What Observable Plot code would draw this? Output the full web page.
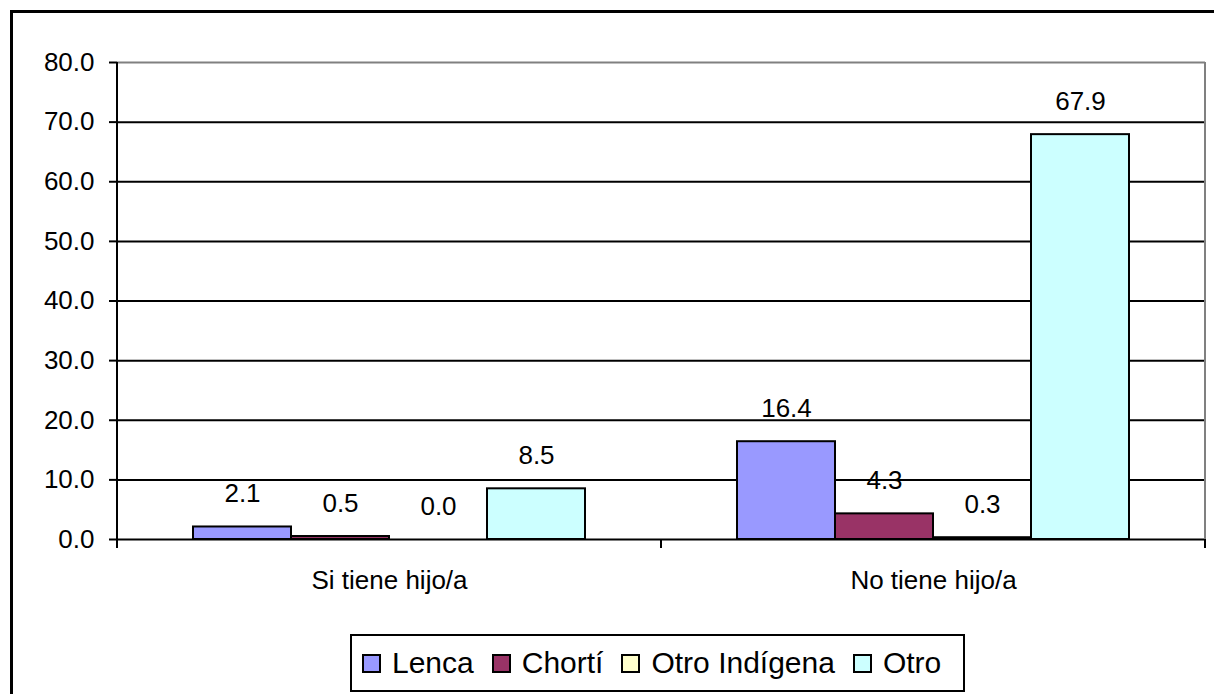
<!DOCTYPE html>
<html>
<head>
<meta charset="utf-8">
<script src="https://cdn.jsdelivr.net/npm/d3@7"></script>
<script src="https://cdn.jsdelivr.net/npm/@observablehq/plot@0.6"></script>
<style>
  html, body { margin: 0; padding: 0; background: #fff; overflow: hidden; }
  body { width: 1214px; height: 694px; position: relative; font-family: "Liberation Sans", Arial, sans-serif; }
  #frame { position: absolute; left: 10px; top: 10px; width: 1230px; height: 720px; border: 3px solid #000; box-sizing: border-box; }
  #chart { position: absolute; left: 0; top: 0; }
  #legend { position: absolute; left: 350px; top: 634px; width: 615px; height: 58px; border: 2px solid #000; box-sizing: border-box;
            display: flex; align-items: center; padding-left: 10px; background: #fff; }
  .item { display: flex; align-items: center; margin-right: 18px; }
  .sw { width: 19px; height: 19px; border: 2px solid #000; box-sizing: border-box; margin-right: 11px; }
  .lab { font-size: 30px; line-height: 1; color: #000; }
</style>
</head>
<body>
<div id="frame"></div>
<div id="chart"></div>
<div id="legend"></div>
<script>
const categories = ["Si tiene hijo/a", "No tiene hijo/a"];
const series = ["Lenca", "Chortí", "Otro Indígena", "Otro"];
const lenca = [2.1, 16.4];
const chorti = [0.5, 4.3];
const otroIndigena = [0.0, 0.3];
const otro = [8.5, 67.9];
const colors = ["#9999FF", "#993366", "#FFFFCC", "#CCFFFF"];
const yTicks = [0, 10, 20, 30, 40, 50, 60, 70, 80];

const valuesBySeries = [lenca, chorti, otroIndigena, otro];
const data = [];
categories.forEach((c, ci) => {
  series.forEach((s, si) => data.push({category: c, series: s, value: valuesBySeries[si][ci]}));
});

const font = "'Liberation Sans', Arial, sans-serif";

const plot = Plot.plot({
  width: 1214,
  height: 610,
  marginTop: 62,
  marginBottom: 71,
  marginLeft: 116,
  marginRight: 9,
  style: {fontFamily: font, fontSize: "26px", color: "#000", background: "transparent", overflow: "visible"},
  fx: {domain: categories, padding: 0, label: null, axis: null},
  x: {domain: series, paddingInner: 0, paddingOuter: 0.76, axis: null},
  y: {domain: [0, 80], axis: null},
  color: {domain: series, range: colors},
  marks: [
    Plot.ruleY(yTicks.filter(d => d > 0 && d < 80), {stroke: "#000", strokeWidth: 2}),
    Plot.ruleY([80], {stroke: "#808080", strokeWidth: 2}),
    Plot.barY(data, {fx: "category", x: "series", y: "value", fill: "series", stroke: "#000", strokeWidth: 2}),
    Plot.text(data, {fx: "category", x: "series", y: "value", text: d => d.value.toFixed(1),
      lineAnchor: "bottom", dy: -25, fontSize: 26, fill: "#000"}),
    Plot.ruleY([0], {stroke: "#000", strokeWidth: 2}),
    Plot.axisY({ticks: yTicks, tickFormat: d => d.toFixed(1), tickSize: 8, tickPadding: 15,
      fontSize: 26, strokeWidth: 2, stroke: "#000", label: null}),
    Plot.axisFx({anchor: "bottom", tickSize: 0, tickPadding: 31, fontSize: 26, label: null})
  ]
});

document.getElementById("chart").appendChild(plot);

// axis chrome derived from the plot's scales
const fx = plot.scale("fx");
const y = plot.scale("y");
const svg = d3.select(plot);
const y0 = y.apply(0), yTop = y.apply(80);
const edges = categories.map(c => fx.apply(c));
edges.push(fx.apply(categories[categories.length - 1]) + fx.bandwidth);
const g = svg.append("g");
// right gray frame edge
g.append("line").attr("x1", edges[edges.length - 1]).attr("x2", edges[edges.length - 1])
  .attr("y1", yTop).attr("y2", y0).attr("stroke", "#808080").attr("stroke-width", 2);
// left axis line
g.append("line").attr("x1", edges[0]).attr("x2", edges[0])
  .attr("y1", yTop).attr("y2", y0 + 9).attr("stroke", "#000").attr("stroke-width", 2);
// category boundary ticks
edges.forEach(e => g.append("line").attr("x1", e).attr("x2", e)
  .attr("y1", y0).attr("y2", y0 + 9).attr("stroke", "#000").attr("stroke-width", 2));

// legend
const legend = document.getElementById("legend");
series.forEach((s, i) => {
  const item = document.createElement("div");
  item.className = "item";
  const sw = document.createElement("div");
  sw.className = "sw";
  sw.style.background = colors[i];
  const lab = document.createElement("span");
  lab.className = "lab";
  lab.textContent = s;
  item.appendChild(sw);
  item.appendChild(lab);
  legend.appendChild(item);
});
</script>
</body>
</html>
